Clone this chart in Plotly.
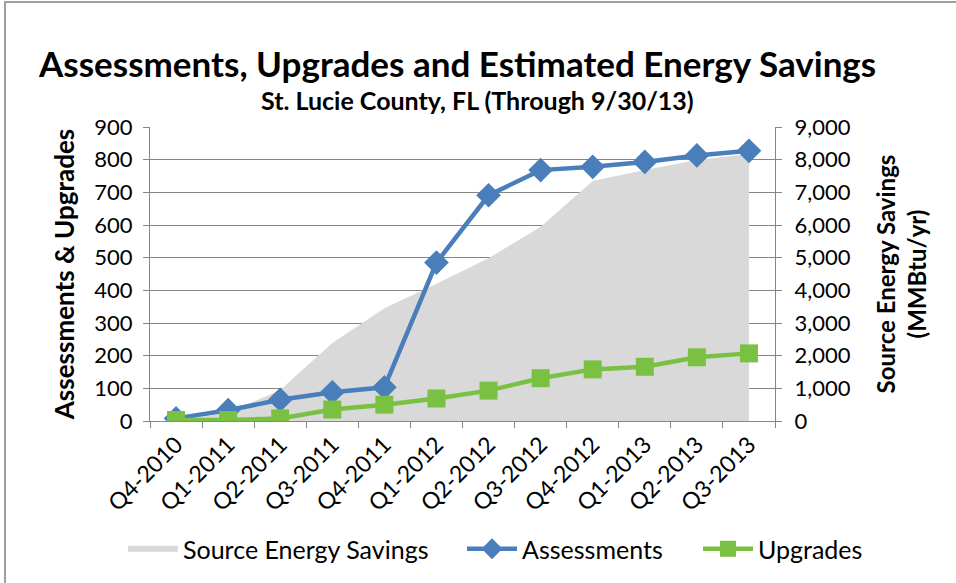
import plotly.graph_objects as go

quarters = ["Q4-2010", "Q1-2011", "Q2-2011", "Q3-2011", "Q4-2011", "Q1-2012",
            "Q2-2012", "Q3-2012", "Q4-2012", "Q1-2013", "Q2-2013", "Q3-2013"]
assessments = [8, 33, 65, 88, 103, 485, 691, 768, 778, 793, 813, 827]
upgrades = [3, 3, 8, 35, 50, 69, 93, 131, 158, 166, 195, 207]
energy_savings = [0, 250, 950, 2390, 3450, 4200, 4980, 5950, 7350, 7680, 7990, 8170]

left_ticks = list(range(0, 901, 100))
right_ticks = list(range(0, 9001, 1000))

FONT = "Lato"
BLUE = "#4A7EBB"
GREEN = "#7AC143"
GRAY_FILL = "#D9D9D9"
AX = "#868686"

# plot-area pixel box
L, R, T, B = 150, 775, 127, 421
W, H = 956, 583


def px(x):
    return (x - L) / (R - L)


def py(y):
    return (B - y) / (B - T)


fig = go.Figure()
fig.add_trace(go.Scatter(x=quarters, y=energy_savings, name="Source Energy Savings",
                         mode="none", fill="tozeroy", fillcolor=GRAY_FILL, yaxis="y",
                         legend="legend"))
fig.add_trace(go.Scatter(x=quarters, y=assessments, name="Assessments", mode="lines+markers",
                         yaxis="y2", line=dict(color=BLUE, width=4.5),
                         marker=dict(symbol="diamond", size=19, color=BLUE),
                         legend="legend2"))
fig.add_trace(go.Scatter(x=quarters, y=upgrades, name="Upgrades", mode="lines+markers",
                         yaxis="y2", line=dict(color=GREEN, width=4.5),
                         marker=dict(symbol="square", size=18, color=GREEN),
                         legend="legend3"))


def legend_at(x_px):
    return dict(orientation="h", xref="container", yref="container",
                x=x_px / W, xanchor="left", y=(H - 549) / H, yanchor="middle",
                font=dict(size=25), itemwidth=50, bgcolor="rgba(0,0,0,0)")


fig.update_layout(
    width=W, height=H,
    margin=dict(l=L, r=W - R, t=T, b=H - B, autoexpand=False),
    paper_bgcolor="white", plot_bgcolor="white",
    font=dict(family=FONT, color="#000000", size=20),
    showlegend=True,
    legend=legend_at(123),
    legend2=legend_at(462),
    legend3=legend_at(698),
    xaxis=dict(type="category", range=[-0.5, 11.5], tickangle=-45, tickson="boundaries",
               ticks="outside", ticklen=6, tickcolor=AX, showline=True, linecolor=AX,
               linewidth=1, showgrid=False, tickfont=dict(size=23), automargin=False),
    yaxis=dict(range=[0, 9000], tickvals=right_ticks, tickformat=",", side="right",
               ticks="outside", ticklen=6, tickcolor=AX, showline=True, linecolor=AX,
               linewidth=1, showgrid=True, gridcolor=AX, gridwidth=1, zeroline=False,
               tickfont=dict(size=22), automargin=False, ticklabelstandoff=8,
               title=dict(text="<b>Source Energy Savings<br>(MMBtu/yr)</b>",
                          font=dict(size=24), standoff=28)),
    yaxis2=dict(range=[0, 900], tickvals=left_ticks, overlaying="y", side="left",
                ticks="outside", ticklen=6, tickcolor=AX, showline=True, linecolor=AX,
                linewidth=1, showgrid=False, zeroline=False, tickfont=dict(size=22),
                automargin=False, ticklabelstandoff=6,
                title=dict(text="<b>Assessments & Upgrades</b>", font=dict(size=26),
                           standoff=12)),
    annotations=[
        dict(text="<b>Assessments, Upgrades and Estimated Energy Savings</b>",
             x=px(457), y=py(63), xref="paper", yref="paper", xanchor="center",
             yanchor="middle", showarrow=False, font=dict(size=35)),
        dict(text="<b>St. Lucie County, FL (Through 9/30/13)</b>",
             x=px(477), y=py(100), xref="paper", yref="paper", xanchor="center",
             yanchor="middle", showarrow=False, font=dict(size=25)),
    ],
    shapes=[dict(type="rect", xref="paper", yref="paper",
                 x0=px(5), x1=px(W + 20), y0=py(H + 20), y1=py(2),
                 line=dict(color="#A0A0A0", width=2), fillcolor="rgba(0,0,0,0)",
                 layer="above")],
)

fig.write_html("out.html", config={"displayModeBar": False},
               post_script="document.body.style.margin='0';")
